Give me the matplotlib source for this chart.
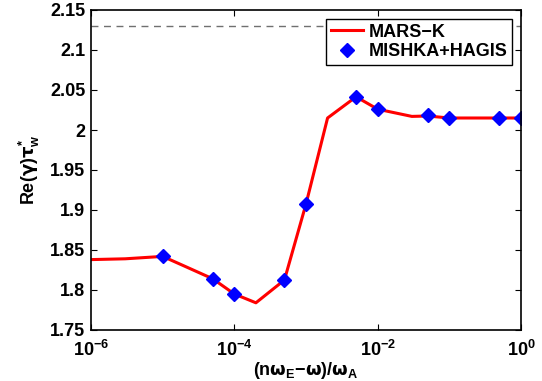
import numpy as np
import matplotlib
matplotlib.use("Agg")
import matplotlib.pyplot as plt

plt.rcParams['font.family'] = 'Liberation Sans'
plt.rcParams['font.weight'] = 'bold'
plt.rcParams['mathtext.fontset'] = 'custom'
plt.rcParams['mathtext.rm'] = 'Liberation Sans:bold'
plt.rcParams['mathtext.it'] = 'DejaVu Sans'
plt.rcParams['mathtext.bf'] = 'Liberation Sans:bold'

# MARS-K curve
mars_x = [1e-6, 3e-6, 1e-5, 2e-5, 5e-5, 1e-4, 2e-4, 5e-4, 1e-3, 2e-3, 5e-3, 1e-2, 3e-2, 5e-2, 1e-1, 5e-1, 1.0]
mars_y = [1.838, 1.839, 1.842, 1.830, 1.814, 1.795, 1.784, 1.8125, 1.9075, 2.015, 2.0415, 2.026, 2.017, 2.0175, 2.015, 2.015, 2.015]

# MISHKA+HAGIS points
mh_x = [1e-5, 5e-5, 1e-4, 5e-4, 1e-3, 5e-3, 1e-2, 5e-2, 1e-1, 5e-1, 1.0]
mh_y = [1.842, 1.814, 1.795, 1.8125, 1.9075, 2.0415, 2.026, 2.0185, 2.015, 2.015, 2.015]

ref_level = 2.13

fig = plt.figure(figsize=(5.42, 3.81), dpi=100)
ax = fig.add_axes([91/542, 51/381, 430/542, 320/381])

ax.axhline(ref_level, color='#707070', linestyle='--', linewidth=1, dashes=(5, 4))
ax.plot(mars_x, mars_y, color='red', linewidth=2.2, label='MARS\u2212K')
ax.plot(mh_x, mh_y, linestyle='none', marker='D', color='blue', markersize=7.5, label='MISHKA+HAGIS')

ax.set_xscale('log')
ax.set_xlim(1e-6, 1)
ax.set_ylim(1.75, 2.15)
ax.set_xticks([1e-6, 1e-4, 1e-2, 1])
ax.xaxis.set_minor_locator(matplotlib.ticker.NullLocator())
ax.set_yticks(np.arange(1.75, 2.151, 0.05))
ax.set_yticklabels(['1.75', '1.8', '1.85', '1.9', '1.95', '2', '2.05', '2.1', '2.15'])
ax.tick_params(direction='in', top=True, right=True, labelsize=13, length=4)
ax.tick_params(axis='x', pad=7)
ax.tick_params(axis='y', pad=4)
for lab in ax.get_xticklabels() + ax.get_yticklabels():
    lab.set_fontweight('bold')
for s in ax.spines.values():
    s.set_linewidth(1.2)

ax.set_xlabel(r'(n$\omega_{\mathbf{E}}$$-\omega$)/$\omega_{\mathbf{A}}$', fontsize=13, fontweight='bold', labelpad=0)
ax.set_ylabel(r'Re($\gamma$)$\tau_{\mathbf{w}}^{\mathbf{*}}$', fontsize=13, fontweight='bold', labelpad=6)

leg = ax.legend(loc='upper right', fontsize=13, fancybox=False, edgecolor='black',
                framealpha=1, borderpad=0.25, handlelength=1.8, handletextpad=0.3,
                labelspacing=0.15, borderaxespad=0.5)
leg.get_frame().set_linewidth(1)
for t in leg.get_texts():
    t.set_fontweight('bold')

fig.savefig('out.png', dpi=100)
